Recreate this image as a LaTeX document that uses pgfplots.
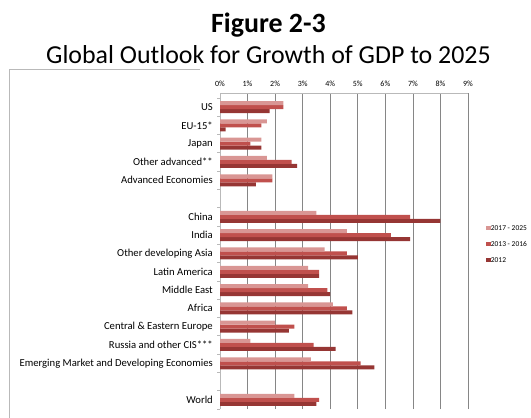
\documentclass[border=0pt]{standalone}
\usepackage{fontspec}
\setmainfont{Carlito}
\usepackage{pgfplots}
\pgfplotsset{compat=1.18}
\definecolor{cLight}{RGB}{217,150,148}
\definecolor{cMid}{RGB}{192,80,77}
\definecolor{cDark}{RGB}{150,54,52}
\definecolor{gridc}{RGB}{134,134,134}
\definecolor{axc}{RGB}{185,185,185}
\begin{document}
\begin{tikzpicture}
\path[use as bounding box] (0bp,0bp) rectangle (531bp,-418bp);
\draw[axc, line width=0.8bp] (9bp,-418bp) -- (9bp,-69bp) -- (200bp,-69bp);
\node[font=\fontsize{28}{32}\selectfont\bfseries, anchor=base, inner sep=0pt] at (268.5bp,-32bp) {Figure 2-3};
\node[font=\fontsize{26}{30}\selectfont, anchor=base, inner sep=0pt, fill=white, inner ysep=1bp] at (268.5bp,-63bp) {Global Outlook for Growth of GDP to 2025};
\begin{axis}[
  at={(220bp,-93bp)}, anchor=north west,
  scale only axis, width=248bp, height=316bp,
  xbar=0pt, bar width=4bp,
  xmin=0, xmax=9, ymin=-0.5, ymax=16.77,
  axis x line*=top, axis y line*=left,
  axis line style={axc, line width=0.8bp, -},
  xtick={0,...,9},
  xticklabels={0\%,1\%,2\%,3\%,4\%,5\%,6\%,7\%,8\%,9\%},
  xticklabel pos=upper,
  xticklabel style={font=\fontsize{8}{9}\selectfont, inner sep=0pt, yshift=6bp},
  xmajorgrids, grid style={gridc, line width=0.6bp},
  ytick={0,...,16},
  yticklabels={World,{},Emerging Market and Developing Economies,Russia and other CIS***,Central \& Eastern Europe,Africa,Middle East,Latin America,Other developing Asia,India,China,{},Advanced Economies,Other advanced**,Japan,EU-15*,US},
  yticklabel style={font=\fontsize{10.7}{12}\selectfont, inner sep=0pt, xshift=-7bp},
  minor ytick={-0.5,0.5,...,16.5},
  major tick length=0pt, minor tick length=3bp, tick align=outside,
  minor tick style={axc, line width=0.8bp},
  reverse legend,
  legend style={at={(1.073,0.585)}, anchor=north west, draw=none, fill=none, inner sep=0pt,
    font=\fontsize{7.5}{9}\selectfont, row sep=8.5bp,
    nodes={inner sep=0pt, text height=6bp, text depth=1.5bp}},
  legend cell align=left,
  legend image code/.code={\fill[#1] (0bp,-2.3bp) rectangle (4.6bp,2.3bp);},
  /tikz/every even column/.append style={column sep=1.5bp},
]
\addplot[fill=cDark, draw=none] coordinates {
(3.5,0) (5.6,2) (4.2,3) (2.5,4) (4.8,5) (4.0,6) (3.6,7) (5.0,8) (6.9,9) (8.0,10) (1.3,12) (2.8,13) (1.5,14) (0.2,15) (1.8,16)};
\addplot[fill=cMid, draw=none] coordinates {
(3.6,0) (5.1,2) (3.4,3) (2.7,4) (4.6,5) (3.9,6) (3.6,7) (4.6,8) (6.2,9) (6.9,10) (1.9,12) (2.6,13) (1.1,14) (1.5,15) (2.3,16)};
\addplot[fill=cLight, draw=none] coordinates {
(2.7,0) (3.3,2) (1.1,3) (2.0,4) (4.1,5) (3.2,6) (3.2,7) (3.8,8) (4.6,9) (3.5,10) (1.9,12) (1.7,13) (1.5,14) (1.7,15) (2.3,16)};
\legend{2012,2013 - 2016,2017 - 2025}
\end{axis}
\end{tikzpicture}
\end{document}
